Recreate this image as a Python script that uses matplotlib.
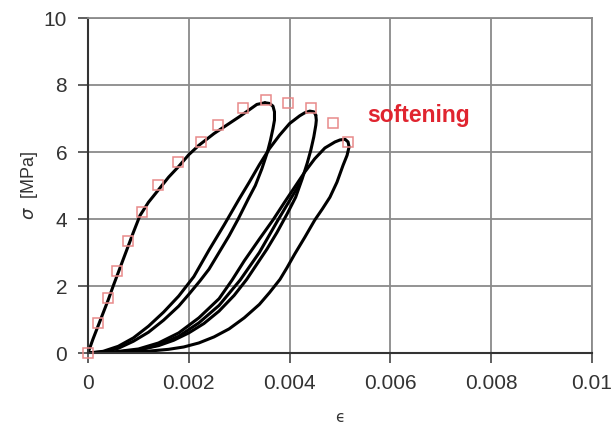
import matplotlib
matplotlib.use("Agg")
from matplotlib import pyplot as plt

plt.rcParams.update({"font.family": "sans-serif",
                     "font.sans-serif": ["Liberation Sans", "DejaVu Sans"],
                     "mathtext.fontset": "dejavusans"})

# red squares: measured envelope
env_eps = [0, 0.0002, 0.0004, 0.00058, 0.00079, 0.00107, 0.00139, 0.00179,
           0.00224, 0.00258, 0.00308, 0.00353, 0.00397, 0.00442, 0.00486, 0.00516]
env_sig = [0, 0.9, 1.64, 2.45, 3.34, 4.2, 5.0, 5.7,
           6.3, 6.8, 7.3, 7.55, 7.46, 7.3, 6.87, 6.3]

# black curve, split into branches
load_eps = [0, 0.0001, 0.00025, 0.0004, 0.0005, 0.00075, 0.0009, 0.00103,
            0.0012, 0.00143, 0.0016, 0.0018, 0.002, 0.0022, 0.0025, 0.0028,
            0.003, 0.0032, 0.00335, 0.00351]
load_sig = [0, 0.42, 1.0, 1.58, 2.0, 3.0, 3.6, 4.1,
            4.5, 4.93, 5.25, 5.57, 5.92, 6.2, 6.55, 6.85,
            7.05, 7.26, 7.42, 7.47]

unl1_eps = [0.00351, 0.0036, 0.00367, 0.0037, 0.0037, 0.00367, 0.00362,
            0.00356, 0.00345, 0.00332, 0.00318, 0.00298, 0.0028, 0.0026,
            0.0024, 0.00222, 0.002, 0.0018, 0.0015, 0.0012, 0.0009, 0.0006,
            0.0003, 0]
unl1_sig = [7.47, 7.45, 7.37, 7.2, 6.95, 6.7, 6.35,
            6.0, 5.5, 5.0, 4.6, 4.0, 3.5, 3.0,
            2.5, 2.15, 1.75, 1.4, 0.98, 0.62, 0.35, 0.14,
            0.03, 0]

rel1_eps = [0, 0.0003, 0.0006, 0.0009, 0.0012, 0.0015, 0.0018, 0.0021,
            0.0024, 0.0027, 0.003, 0.0032, 0.0034, 0.0036, 0.0038, 0.004,
            0.0042, 0.0043, 0.0044, 0.00448, 0.00452]
rel1_sig = [0, 0.05, 0.2, 0.45, 0.8, 1.22, 1.7, 2.28,
            3.07, 3.82, 4.6, 5.1, 5.62, 6.1, 6.5, 6.85,
            7.08, 7.17, 7.22, 7.2, 7.1]

unl2_eps = [0.00452, 0.00453, 0.00452, 0.00448, 0.00442, 0.00435, 0.00425,
            0.00412, 0.00395, 0.00375, 0.00355, 0.00335, 0.00315, 0.0029,
            0.0026, 0.0023, 0.002, 0.0017, 0.0014, 0.001, 0.0005, 0]
unl2_sig = [7.1, 6.95, 6.8, 6.45, 6.05, 5.67, 5.2,
            4.65, 4.15, 3.6, 3.1, 2.65, 2.2, 1.72,
            1.25, 0.88, 0.6, 0.38, 0.22, 0.09, 0.015, 0]

rel2_eps = [0, 0.0005, 0.001, 0.0014, 0.0018, 0.0022, 0.0026, 0.00286,
            0.0031, 0.0034, 0.00367, 0.0039, 0.0041, 0.0043, 0.0045, 0.0047,
            0.0049, 0.005, 0.0051, 0.00516, 0.00518]
rel2_sig = [0, 0.03, 0.12, 0.3, 0.6, 1.05, 1.62, 2.18,
            2.75, 3.4, 3.97, 4.5, 4.95, 5.4, 5.8, 6.12,
            6.3, 6.36, 6.38, 6.3, 6.15]

unl3_eps = [0.00518, 0.00514, 0.00506, 0.00494, 0.0048, 0.00465, 0.0045,
            0.0043, 0.0041, 0.00395, 0.00381, 0.0036, 0.0034, 0.0031,
            0.0028, 0.0025, 0.0022, 0.0019, 0.0016, 0.0012, 0.0006, 0]
unl3_sig = [6.15, 5.9, 5.6, 5.1, 4.65, 4.3, 3.97,
            3.45, 2.95, 2.55, 2.2, 1.8, 1.45, 1.05,
            0.72, 0.48, 0.3, 0.18, 0.11, 0.055, 0.012, 0]

rel3_eps = [0, 0.0005, 0.001, 0.0014, 0.0018, 0.0022, 0.0026, 0.00302,
            0.0034, 0.00377, 0.004, 0.0042]
rel3_sig = [0, 0.02, 0.09, 0.24, 0.5, 0.9, 1.42, 2.18,
            3.0, 3.97, 4.55, 5.05]

branches = [(load_eps, load_sig), (unl1_eps, unl1_sig), (rel1_eps, rel1_sig),
            (unl2_eps, unl2_sig), (rel2_eps, rel2_sig), (unl3_eps, unl3_sig),
            (rel3_eps, rel3_sig)]

x_ticks = [0, 0.002, 0.004, 0.006, 0.008, 0.01]
x_tick_labels = ["0", "0.002", "0.004", "0.006", "0.008", "0.01"]
y_ticks = [0, 2, 4, 6, 8, 10]


fig = plt.figure(figsize=(6.12, 4.23), dpi=100)
ax = fig.add_axes([88 / 612, 70 / 423, 504 / 612, 335 / 423])

ax.grid(True, color="#8a8a8a", linewidth=1.3)
ax.set_axisbelow(True)

for eps, sig in branches:
    ax.plot(eps, sig, color="black", linewidth=2.2, solid_capstyle="round",
            solid_joinstyle="round")

ax.plot(env_eps, env_sig, linestyle="none", marker="s", markersize=7.5,
        markerfacecolor="none", markeredgecolor="#e88a8a", markeredgewidth=1.1,
        clip_on=False, zorder=3)

ax.text(0.00554, 7.1, "softening", color="#e0242f", fontsize=16.5,
        fontweight="bold", va="center", ha="left")

ax.set_xlim(0, 0.01)
ax.set_ylim(0, 10)
ax.set_xticks(x_ticks)
ax.set_xticklabels(x_tick_labels)
ax.set_yticks(y_ticks)
ax.tick_params(axis="both", direction="out", length=7, width=1.2,
               color="#444444", labelcolor="#333333", labelsize=15, pad=8)

for side in ["left", "bottom"]:
    ax.spines[side].set_color("#333333")
    ax.spines[side].set_linewidth(1.5)
for side in ["top", "right"]:
    ax.spines[side].set_color("#8a8a8a")
    ax.spines[side].set_linewidth(1.3)

ax.set_xlabel("ϵ", fontsize=11, color="#333333", labelpad=12,
              family="DejaVu Sans")
ax.set_ylabel(r"$\sigma$  [MPa]", fontsize=13, color="#333333", labelpad=2.5)

fig.savefig("out.png", dpi=100)
